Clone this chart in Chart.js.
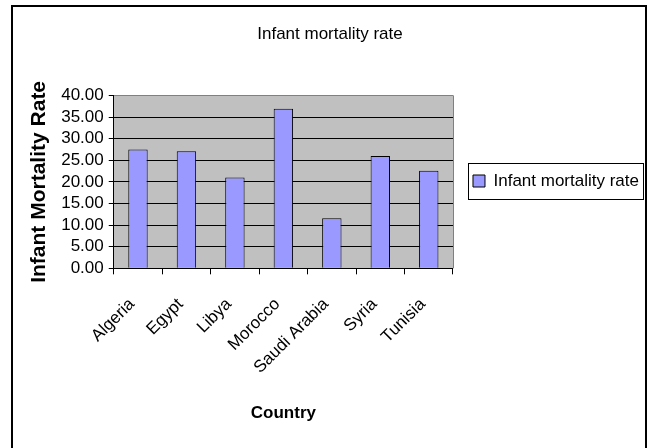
<!DOCTYPE html>
<html><head><meta charset="utf-8">
<script src="https://cdn.jsdelivr.net/npm/chart.js@4"></script>
<style>html,body{margin:0;padding:0;background:#fff;}#wrap{width:653px;height:448px;}</style>
</head><body><div id="wrap"><canvas id="c" width="653" height="448"></canvas></div>
<script>
const categories = ['Algeria', 'Egypt', 'Libya', 'Morocco', 'Saudi Arabia', 'Syria', 'Tunisia'];
const seriesName = 'Infant mortality rate';
const values = [27.5, 27.1, 21.0, 36.9, 11.6, 26.0, 22.6];
const yTickValues = [0, 5, 10, 15, 20, 25, 30, 35, 40];
const chartTitle = 'Infant mortality rate';
const xTitle = 'Country';
const yTitle = 'Infant Mortality Rate';

const FONT = '"Liberation Sans", Arial, sans-serif';

const deco = {
  id: 'deco',
  afterLayout(chart) {
    const lg = chart.legend;
    if (lg) { lg.top = 163; lg.bottom = 199; }
    if (chart.titleBlock) { chart.titleBlock.left -= 12; }
  },
  beforeDraw(chart) {
    const {ctx, chartArea: a} = chart;
    ctx.save();
    ctx.fillStyle = '#fff';
    ctx.fillRect(0, 0, chart.width, chart.height);
    ctx.fillStyle = '#C0C0C0';
    ctx.fillRect(a.left, a.top, a.right - a.left, a.bottom - a.top);
    ctx.restore();
  },
  afterDraw(chart) {
    const {ctx, chartArea: a} = chart;
    ctx.save();
    ctx.strokeStyle = '#808080';
    ctx.lineWidth = 1;
    ctx.beginPath();
    ctx.moveTo(Math.round(a.right) + 0.5, a.top);
    ctx.lineTo(Math.round(a.right) + 0.5, a.bottom);
    ctx.stroke();
    const lg = chart.legend;
    if (lg && lg.legendHitBoxes && lg.legendHitBoxes.length) {
      const hb = lg.legendHitBoxes[0];
      const cy = hb.top + hb.height / 2;
      ctx.strokeStyle = '#000';
      ctx.strokeRect(Math.round(hb.left - 5) + 0.5, Math.round(cy - 18) + 0.5, Math.round(hb.width + 9), 36);
    }
    ctx.lineWidth = 2;
    ctx.strokeStyle = '#000';
    ctx.strokeRect(12, 6, 634, 470);
    ctx.restore();
  }
};

new Chart(document.getElementById('c'), {
  type: 'bar',
  data: {
    labels: categories,
    datasets: [{
      label: seriesName,
      data: values,
      backgroundColor: '#9999FF',
      borderColor: '#000000',
      borderWidth: 1,
      categoryPercentage: 1.0,
      barPercentage: 0.4
    }]
  },
  options: {
    responsive: false,
    animation: false,
    devicePixelRatio: 1,
    layout: { padding: { left: 23, right: 4, top: 0, bottom: 20 } },
    plugins: {
      tooltip: { enabled: false },
      title: {
        display: true,
        text: chartTitle,
        color: '#000',
        font: { family: FONT, size: 17, weight: 'normal' },
        padding: { top: 24, bottom: 51 }
      },
      legend: {
        display: true,
        position: 'right',
        align: 'center',
        maxWidth: 220,
        labels: {
          color: '#000',
          font: { family: FONT, size: 17 },
          boxWidth: 12,
          boxHeight: 12,
          padding: 20
        }
      }
    },
    scales: {
      x: {
        offset: true,
        grid: { display: true, offset: true, drawOnChartArea: false, drawTicks: true, tickLength: 6, color: '#000' },
        border: { display: true, color: '#000' },
        ticks: {
          color: '#000',
          font: { family: FONT, size: 17 },
          minRotation: 45,
          maxRotation: 45,
          autoSkip: false,
          padding: 20,
          labelOffset: -6
        },
        title: {
          display: true,
          text: xTitle,
          color: '#000',
          font: { family: FONT, size: 17, weight: 'bold' },
          padding: { top: 6, bottom: 4 }
        }
      },
      y: {
        min: yTickValues[0],
        max: yTickValues[yTickValues.length - 1],
        afterBuildTicks(scale) { scale.ticks = yTickValues.map(v => ({ value: v })); },
        grid: {
          color: c => (c.tick && c.tick.value === yTickValues[yTickValues.length - 1]) ? '#808080' : '#000',
          tickColor: '#000',
          tickLength: 5,
          drawTicks: true
        },
        border: { display: true, color: '#000' },
        ticks: {
          color: '#000',
          font: { family: FONT, size: 17 },
          padding: 5,
          autoSkip: false,
          callback: v => Number(v).toFixed(2)
        },
        title: {
          display: true,
          text: yTitle,
          color: '#000',
          font: { family: FONT, size: 21, weight: 'bold' },
          padding: { top: 4, bottom: 4 }
        }
      }
    }
  },
  plugins: [deco]
});
</script>
</body></html>
